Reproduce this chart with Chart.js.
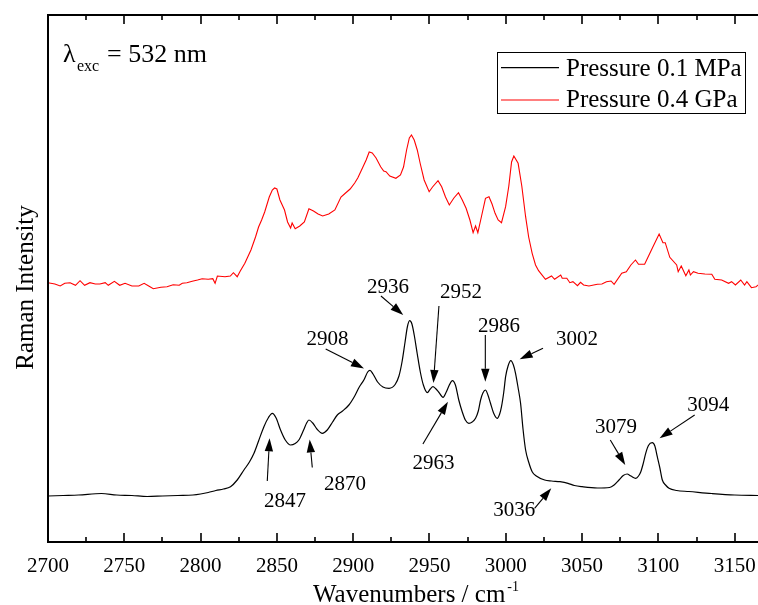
<!DOCTYPE html>
<html><head><meta charset="utf-8">
<script src="https://cdn.jsdelivr.net/npm/chart.js@4/dist/chart.umd.min.js"></script>
<style>html,body{margin:0;padding:0;background:#fff}#wrap{width:758px;height:605px;position:relative}</style>
</head><body><div id="wrap"><canvas id="c" width="758" height="605"></canvas></div>
<script>
const seriesLabels = ['Pressure 0.1 MPa', 'Pressure 0.4 GPa'];
const seriesColors = ['#000000', '#ff0000'];

const wn01 = [2700,2710,2720,2735,2745,2755,2765,2775,2785,2795,2800,2805,2810,2815,2819.6,2824,2828.4,2832,2835,2838,2841.5,2844.5,2847,2849.5,2852.4,2855.5,2859,2862,2864.4,2867.5,2869.5,2871,2873.5,2876.5,2879.8,2883,2886.5,2889.6,2893,2897.2,2901,2904,2907,2909.5,2911,2913,2916,2919.5,2923.5,2927.5,2930,2932,2934,2935.5,2937,2938.5,2940,2942,2944,2946,2948.6,2950.5,2952.3,2954,2956,2958.9,2961,2963,2965,2967,2969.2,2971.5,2973.5,2975.8,2978,2980.2,2982,2983.5,2985,2986.7,2988.3,2990,2992,2994.4,2996,2997.2,2998.7,2999.9,3001.5,3003.3,3005,3006.4,3008,3009.7,3011.3,3013,3015,3017.3,3020,3025.5,3030,3035.5,3040.8,3045,3050,3060,3068,3071,3074.2,3077,3079.5,3082,3085.2,3087,3088.5,3090,3091.7,3093.5,3096,3097.7,3099.3,3101,3102.6,3105,3107,3112,3120,3135,3150,3166];
const int01 = [46,46.5,47,48.5,47,46.5,45.5,46,46.5,47,48,49.5,51.5,53,55.3,62,72,80,88.7,101,115.3,124.5,128.7,124,112,102,97,98.5,102,112,119,122,119,112.5,108.7,112,120,127,131,137,146,155,162,170,171.7,168,160,155,153.7,157.5,166,180,200,215,221.3,218,207,188,170,157,149.3,153,155.3,153.5,150,144.7,150,157,161.3,157,142,130,122,118.7,120,123.7,131,142,149,152,147,138.7,129,123.7,128,135.3,150,165.3,176,181.3,177,168.7,155,138.7,113,92,80,70.3,66,62,61,60.3,58.7,56.5,55.3,54,54.5,57,62,66.5,68,66,63.7,66,70.3,78,88.7,96.5,99.3,96,85.3,74,62,56.5,53.7,51.5,50.5,48.5,47,46.5];

const wn04 = [2700,2704.5,2708,2711,2714.5,2718,2721,2724,2727.5,2731,2734,2737.5,2739.5,2743.5,2747,2750.5,2755,2759.5,2763,2766,2769,2774,2778,2782,2786,2788,2791,2794.5,2798,2801,2805,2808,2809.5,2811,2816,2819.5,2821.5,2824,2826,2829,2833,2836,2838,2840,2842,2845,2847,2848.5,2850,2852,2855,2857,2859,2860,2862,2865,2868,2871,2874,2877,2880,2884,2888,2892,2895,2898,2901,2903,2906,2908.5,2910.5,2912.5,2915,2918,2920,2921.5,2924,2928,2931,2933,2935,2936.8,2938.2,2940,2942,2944,2946.5,2949.8,2952,2955.6,2958,2960.5,2963,2966,2969,2971.5,2974,2976.5,2978.6,2980.2,2981.7,2984,2986.7,2989,2991,2993,2995,2997.2,2999.9,3002,3003.8,3005.3,3008.1,3010.5,3013,3015,3017.3,3019.5,3021.5,3026,3030,3032,3036,3037,3040,3042,3044,3047,3049,3051,3054.5,3060,3063,3066,3069,3071,3076,3079,3082,3085,3087,3091,3096,3100.5,3103,3104.5,3107.5,3112,3113,3115,3118,3120,3121,3123,3126,3130.5,3135,3137,3141.5,3146,3148,3150.5,3154,3156.5,3158,3161,3164,3166];
const int04 = [259.3,258,256,258.7,259.3,256.7,261.3,256.7,259.3,258,258,259.3,256.7,260.7,256.7,258.7,256,256,258.7,256,253.3,254.7,255.3,257.3,256.7,258.7,259.3,260.7,262,263.3,262.7,263.3,258.7,266,265.3,266,269.3,265.3,271,278.7,292,305,315,322,330,345,352,354,353,342,332,320,314,319,313.3,316,320,333.3,331,328,326,328,332,345,349,353,359,364,373.7,382,390,389,384,375.3,371,370.3,366,363.7,367,375,392,404,407,402,392,378,362,350.3,355,361.3,355.3,345,337,344,349.3,342,333.7,322,309.3,316,309.3,325,343.7,345.3,338,328.7,322,319.3,335.3,356,380,386,378.7,356,325.3,305,288.7,277,271.3,262.7,266,262.7,267,263.7,263.7,259.3,260.3,256.3,259.7,257,256,257.7,258,260.3,261,257.7,268.7,270.3,277,282,277.7,277.7,293.7,308,299.3,299.3,284.7,277,270.3,276,266.3,272,267,270.3,268.7,268,267.7,262.7,262,258.7,260.3,257,262,257,260.3,254.3,255.3,257.7];

const xTicks = [2700,2750,2800,2850,2900,2950,3000,3050,3100,3150];
const xMinorTicks = [2725,2775,2825,2875,2925,2975,3025,3075,3125];
const xAxisTitle = 'Wavenumbers / cm';
const xAxisTitleSup = '-1';
const yAxisTitle = 'Raman Intensity';

// peak annotations: label, text centre (x,y baseline), arrow start, arrow tip (data units)
const peakLabels = ['2847','2870','2908','2936','2952','2963','2986','3002','3036','3079','3094'];
const peakTextX  = [2855.3,2894.6,2883.2,2922.8,2970.6,2952.6,2995.5,3046.7,3005.6,3072.2,3132.7];
const peakTextY  = [35.3,52,197,249.3,243.7,72.7,210.3,197,26,108.7,131.3];
const arrowFromX = [2843.7,2873.2,2882.0,2918.2,2956.2,2945.7,2986.6,3024.4,3018.9,3068.5,3123.8];
const arrowFromY = [61,74.5,193,246,236,98,207,193.7,33.7,102,127];
const arrowToX   = [2845.2,2871.5,2907.1,2932.8,2952.6,2962.1,2986.6,3009.1,3029.8,3078.3,3100.8];
const arrowToY   = [103.7,102.5,173.5,227,159,140.3,160.3,182.7,53.7,77,103.7];

const SERIF = '"Liberation Serif", "Times New Roman", serif';

function arrow(ctx, x1, y1, x2, y2) {
  const ang = Math.atan2(y2 - y1, x2 - x1);
  const L = 13, W = 4.2;
  const bx = x2 - L * Math.cos(ang), by = y2 - L * Math.sin(ang);
  ctx.beginPath();
  ctx.moveTo(x1, y1); ctx.lineTo(bx, by);
  ctx.lineWidth = 1.1; ctx.strokeStyle = '#000'; ctx.stroke();
  ctx.beginPath();
  ctx.moveTo(x2, y2);
  ctx.lineTo(bx + W * Math.sin(ang), by - W * Math.cos(ang));
  ctx.lineTo(bx - W * Math.sin(ang), by + W * Math.cos(ang));
  ctx.closePath(); ctx.fillStyle = '#000'; ctx.fill();
}

const decor = {
  id: 'decor',
  afterDraw(chart) {
    const ctx = chart.ctx, a = chart.chartArea;
    const xs = chart.scales.x, ys = chart.scales.y;
    ctx.save();
    // frame
    ctx.strokeStyle = '#000'; ctx.lineWidth = 2;
    ctx.beginPath();
    ctx.moveTo(a.right + 2, a.top); ctx.lineTo(a.left, a.top); ctx.lineTo(a.left, a.bottom); ctx.lineTo(a.right + 2, a.bottom);
    ctx.stroke();
    // ticks inward
    ctx.lineWidth = 1.6;
    ctx.beginPath();
    xTicks.forEach(v => { const p = Math.round(xs.getPixelForValue(v)); if (p > a.left + 1) { ctx.moveTo(p, a.bottom); ctx.lineTo(p, a.bottom - 9); ctx.moveTo(p, a.top); ctx.lineTo(p, a.top + 9); } });
    xMinorTicks.forEach(v => { const p = Math.round(xs.getPixelForValue(v)); ctx.moveTo(p, a.bottom); ctx.lineTo(p, a.bottom - 5); ctx.moveTo(p, a.top); ctx.lineTo(p, a.top + 5); });
    ctx.stroke();
    // annotations
    ctx.fillStyle = '#000';
    ctx.font = '21px ' + SERIF; ctx.textAlign = 'center'; ctx.textBaseline = 'alphabetic';
    peakLabels.forEach((t, i) => {
      ctx.fillText(t, xs.getPixelForValue(peakTextX[i]), ys.getPixelForValue(peakTextY[i]));
      arrow(ctx, xs.getPixelForValue(arrowFromX[i]), ys.getPixelForValue(arrowFromY[i]), xs.getPixelForValue(arrowToX[i]), ys.getPixelForValue(arrowToY[i]));
    });
    // lambda label
    ctx.textAlign = 'left';
    ctx.font = '26px ' + SERIF; ctx.fillText('\u03bb', 63, 61.7);
    ctx.font = '16px ' + SERIF; ctx.fillText('exc', 77, 71);
    ctx.font = '26px ' + SERIF; ctx.fillText('= 532 nm', 107, 61.7);
    // legend
    ctx.lineWidth = 1; ctx.strokeStyle = '#000';
    ctx.strokeRect(497.5, 52.5, 248, 61);
    const ly = [67.7, 100], tb = [76, 106.7];
    ctx.font = '25px ' + SERIF;
    seriesLabels.forEach((lab, i) => {
      ctx.beginPath(); ctx.moveTo(501, ly[i]); ctx.lineTo(559, ly[i]);
      ctx.strokeStyle = seriesColors[i]; ctx.lineWidth = 1.2; ctx.stroke();
      ctx.fillStyle = '#000'; ctx.fillText(lab, 566, tb[i]);
    });
    // x title
    ctx.font = '25px ' + SERIF; ctx.textAlign = 'left';
    const w = ctx.measureText(xAxisTitle).width;
    ctx.font = '14px ' + SERIF; const ws = ctx.measureText(xAxisTitleSup).width;
    const x0 = 416 - (w + ws + 2) / 2;
    ctx.font = '25px ' + SERIF; ctx.fillText(xAxisTitle, x0, 601.5);
    ctx.font = '14px ' + SERIF; ctx.fillText(xAxisTitleSup, x0 + w + 2, 591);
    // y title
    ctx.save();
    ctx.translate(32.5, 287.5); ctx.rotate(-Math.PI / 2);
    ctx.font = '25px ' + SERIF; ctx.textAlign = 'center'; ctx.textBaseline = 'alphabetic';
    ctx.fillText(yAxisTitle, 0, 0);
    ctx.restore();
    ctx.restore();
  }
};

const toXY = (xs, ys) => xs.map((x, i) => ({x, y: ys[i]}));

new Chart(document.getElementById('c'), {
  type: 'line',
  data: {
    datasets: [
      { label: seriesLabels[0], data: toXY(wn01, int01), borderColor: seriesColors[0], borderWidth: 1.2, pointRadius: 0, cubicInterpolationMode: 'monotone', fill: false },
      { label: seriesLabels[1], data: toXY(wn04, int04), borderColor: seriesColors[1], borderWidth: 1.1, pointRadius: 0, tension: 0, fill: false }
    ]
  },
  options: {
    responsive: false, animation: false, devicePixelRatio: 1,
    layout: { padding: { left: 48, top: 15, right: 0, bottom: 0 } },
    plugins: { legend: { display: false }, tooltip: { enabled: false } },
    scales: {
      x: {
        type: 'linear', min: 2700, max: 3165.3, position: 'bottom',
        grid: { display: false, drawTicks: false }, border: { display: false },
        afterBuildTicks: s => { s.ticks = xTicks.map(v => ({ value: v })); },
        afterFit: s => { s.height = 63; s.paddingLeft = 0; s.paddingRight = 0; },
        ticks: { color: '#000', font: { family: SERIF, size: 21 }, padding: 12, maxRotation: 0, autoSkip: false, callback: v => String(v) }
      },
      y: { display: false, min: 0, max: 527 }
    }
  },
  plugins: [decor]
});
</script>
</body></html>
